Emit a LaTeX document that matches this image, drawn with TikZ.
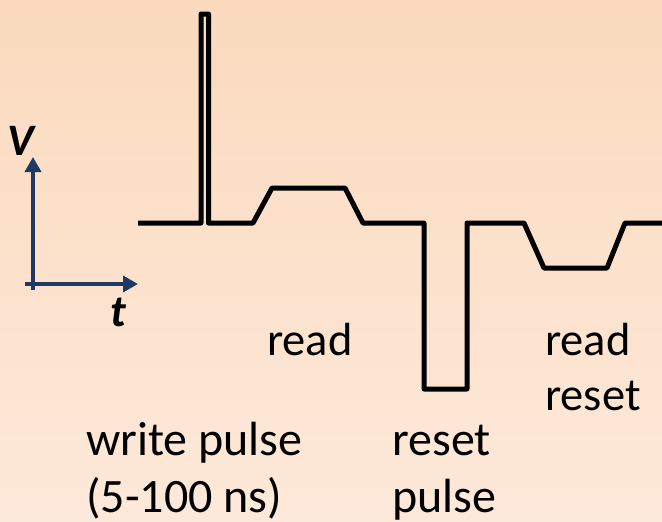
\documentclass[tikz,border=0pt]{standalone}
\usepackage{fontspec}
\setmainfont{Carlito}
\usetikzlibrary{arrows.meta}
\definecolor{bgtop}{RGB}{251,218,190}
\definecolor{bgbot}{RGB}{253,233,218}
\definecolor{axisnavy}{RGB}{31,56,100}
\tikzset{
  wave/.style={line width=5pt, line join=round, line cap=butt, black},
  axisarrow/.style={line width=3.6pt, axisnavy, -{Triangle[length=15pt,width=16pt]}},
  lbl/.style={anchor=base west, inner sep=0pt, font=\fontsize{46.5}{55}\selectfont},
  lblbig/.style={anchor=base west, inner sep=0pt, font=\fontsize{48}{57}\selectfont},
  axlbl/.style={anchor=base west, inner sep=0pt, font=\fontsize{45}{55}\selectfont\bfseries\itshape},
}
\begin{document}
\begin{tikzpicture}[x=1pt,y=-1pt]
\useasboundingbox (0,0) rectangle (662,522);
\shade[top color=bgtop, bottom color=bgbot] (0,0) rectangle (662,522);
\begin{scope}
\clip (0,0) rectangle (662,522);
\draw[wave] (138,223) -- (201,223) -- (201,14) -- (208.5,14) -- (208.5,223) -- (253,223)
  -- (272,188) -- (345,188) -- (363,223) -- (424,223) -- (424,389) -- (467,389)
  -- (467,223) -- (524,223) -- (544,268) -- (607,268) -- (625,223) -- (670,223);
\end{scope}
% axes
\coordinate (vbot) at (33,290);
\coordinate (vtop) at (33,157);
\coordinate (hleft) at (25,284);
\coordinate (hright) at (138,284);
\draw[axisarrow] (vbot) -- (vtop);
\draw[axisarrow] (hleft) -- (hright);
\node[axlbl] (V) at (7,155) {V};
\node[axlbl] (t) at (110,326) {t};
% labels
\node[lbl] (read1) at (267,355) {read};
\node[lbl] (read2) at (545,355) {read};
\node[lbl] (reset2) at (545,410) {reset};
\node[lblbig] (write1) at (86,455) {write pulse};
\node[lblbig] (write2) at (86,512) {(5-100 ns)};
\node[lblbig] (resetp1) at (392,455) {reset};
\node[lblbig] (resetp2) at (392,512) {pulse};
\end{tikzpicture}
\end{document}
